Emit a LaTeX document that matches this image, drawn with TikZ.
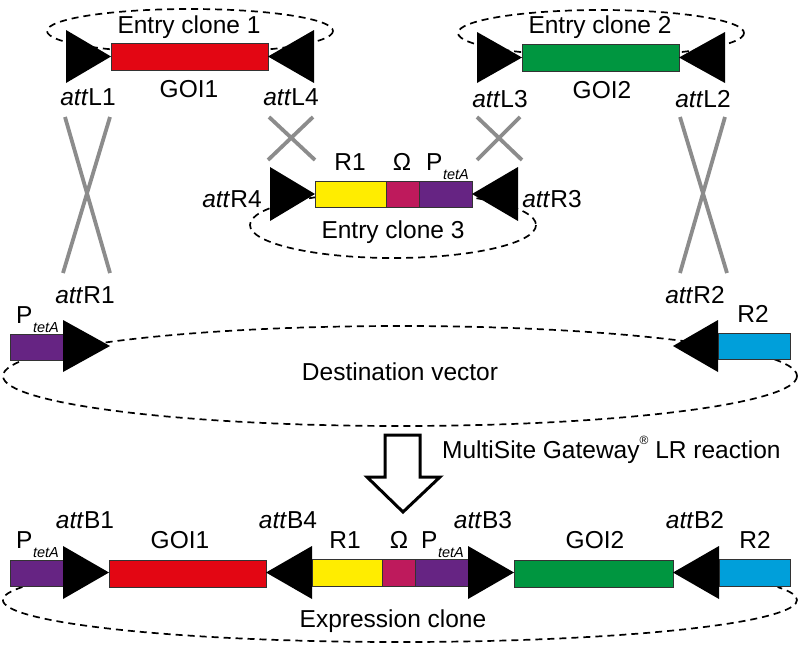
\documentclass[tikz,border=0pt]{standalone}
\usepackage{fontspec}
\setmainfont{Liberation Sans}
\definecolor{cRed}{HTML}{E30613}
\definecolor{cGreen}{HTML}{009640}
\definecolor{cYellow}{HTML}{FFED00}
\definecolor{cMag}{HTML}{BE1A5C}
\definecolor{cPurple}{HTML}{662483}
\definecolor{cBlue}{HTML}{009FDA}
\definecolor{cGray}{HTML}{8C8C8C}
\newcommand\Ptet{P\kern0.5pt\raisebox{-9pt}{\fontsize{14.5}{14.5}\selectfont\itshape tetA}}
\newcommand\attx[1]{\textit{att}#1}
\begin{document}
\begin{tikzpicture}[x=1pt,y=-1pt,
  lbl/.style={font=\fontsize{24.5}{28}\selectfont, inner sep=0pt, anchor=base},
  seg/.style={draw=black!80, line width=0.8pt},
  tri/.style={fill=black},
  ell/.style={draw=black, line width=1.7pt, dash pattern=on 7pt off 5pt},
  xline/.style={draw=cGray, line width=3.8pt},
  bigarrow/.style={draw=black, fill=white, line width=3pt, line join=miter}]
\useasboundingbox (0,0) rectangle (800,648);

% ---------- dashed ellipses (behind) ----------
\draw[ell] (190,31) ellipse [x radius=143, y radius=22];
\draw[ell] (601,33) ellipse [x radius=143, y radius=23];
\draw[ell] (393,225) ellipse [x radius=143, y radius=33];
\draw[ell] (400,376) ellipse [x radius=397, y radius=50];
\draw[ell] (400,600) ++(198:397 and 42) arc [start angle=198, end angle=-18, x radius=397, y radius=42];

% ---------- Entry clone 1 ----------
\fill[seg, fill=cRed] (111,43) rectangle (268,70);
\fill[tri] (66,30) -- (111,56.5) -- (66,83) -- cycle;
\fill[tri] (314,30) -- (268,56.5) -- (314,83) -- cycle;
\node[lbl] (ec1) at (189,33) {Entry clone 1};
\node[lbl] (goi1a) at (189,97) {GOI1};
\node[lbl] (L1) at (88,105) {\attx{L1}};
\node[lbl] (L4) at (291,105) {\attx{L4}};

% ---------- Entry clone 2 ----------
\fill[seg, fill=cGreen] (522,44) rectangle (679,71);
\fill[tri] (477,32) -- (522,57.5) -- (477,83) -- cycle;
\fill[tri] (725,32) -- (679,57.5) -- (725,83) -- cycle;
\node[lbl] (ec2) at (600,33) {Entry clone 2};
\node[lbl] (goi2a) at (602,98) {GOI2};
\node[lbl] (L3) at (500,107) {\attx{L3}};
\node[lbl] (L2) at (703,107) {\attx{L2}};

% ---------- Entry clone 3 ----------
\fill[seg, fill=cYellow] (315,181) rectangle (386,207);
\fill[seg, fill=cMag] (386,181) rectangle (419,207);
\fill[seg, fill=cPurple] (419,181) rectangle (472,207);
\fill[tri] (270,167) -- (315,194) -- (270,221) -- cycle;
\fill[tri] (518,167) -- (472,194) -- (518,221) -- cycle;
\node[lbl] (r1a) at (350,170) {R1};
\node[lbl] (oma) at (402,170) {Ω};
\node[lbl, anchor=base west] (pta) at (426,170) {\Ptet};
\node[lbl] (R4) at (232,207) {\attx{R4}};
\node[lbl] (R3) at (552,207) {\attx{R3}};
\node[lbl] (ec3) at (393,238) {Entry clone 3};

% ---------- recombination crosses ----------
\draw[xline] (65,117) -- (110,273);
\draw[xline] (110,117) -- (63,273);
\draw[xline] (269,117) -- (315,160);
\draw[xline] (313,117) -- (268,160);
\draw[xline] (477,117) -- (522,160);
\draw[xline] (520,117) -- (477,160);
\draw[xline] (680,117) -- (727,273);
\draw[xline] (725,117) -- (680,273);

% ---------- Destination vector ----------
\fill[seg, fill=cPurple] (10,334) rectangle (63,360);
\fill[tri] (63,320) -- (110,346) -- (63,372) -- cycle;
\fill[seg, fill=cBlue] (718,333) rectangle (790,359);
\fill[tri] (718,320) -- (673,346) -- (718,372) -- cycle;
\node[lbl, anchor=base west] (ptd) at (16,323) {\Ptet};
\node[lbl] (R1) at (85,303) {\attx{R1}};
\node[lbl] (R2) at (695,303) {\attx{R2}};
\node[lbl] (r2d) at (753,322) {R2};
\node[lbl] (dv) at (400,380) {Destination vector};

% ---------- reaction arrow ----------
\draw[bigarrow] (385,435) -- (420,435) -- (420,477) -- (440,477) -- (403,512)
  -- (367,477) -- (385,477) -- cycle;
\node[lbl, anchor=base west] (lr) at (442,458) {MultiSite Gateway\raisebox{0.55em}{\fontsize{12}{12}\selectfont ®} LR reaction};

% ---------- Expression clone ----------
\fill[seg, fill=cPurple] (10,560) rectangle (63,586);
\fill[seg, fill=cRed] (109,560) rectangle (266,587);
\fill[seg, fill=cYellow] (312,559) rectangle (382,586);
\fill[seg, fill=cMag] (382,559) rectangle (415,586);
\fill[seg, fill=cPurple] (415,559) rectangle (468,586);
\fill[seg, fill=cGreen] (514,560) rectangle (673,587);
\fill[seg, fill=cBlue] (719,559) rectangle (790,586);
\fill[tri] (63,546) -- (109,572.5) -- (63,599) -- cycle;
\fill[tri] (312,546) -- (266,572.5) -- (312,599) -- cycle;
\fill[tri] (468,546) -- (514,572.5) -- (468,599) -- cycle;
\fill[tri] (719,546) -- (673,572.5) -- (719,599) -- cycle;
\node[lbl, anchor=base west] (pte1) at (16,548) {\Ptet};
\node[lbl] (B1) at (85,528) {\attx{B1}};
\node[lbl] (goi1b) at (180,548) {GOI1};
\node[lbl] (B4) at (288,528) {\attx{B4}};
\node[lbl] (r1b) at (345,548) {R1};
\node[lbl] (omb) at (399,548) {Ω};
\node[lbl, anchor=base west] (pte2) at (421,548) {\Ptet};
\node[lbl] (B3) at (483,528) {\attx{B3}};
\node[lbl] (goi2b) at (595,548) {GOI2};
\node[lbl] (B2) at (695,528) {\attx{B2}};
\node[lbl] (r2b) at (755,548) {R2};
\node[lbl] (xc) at (393,627) {Expression clone};
\end{tikzpicture}
\end{document}
